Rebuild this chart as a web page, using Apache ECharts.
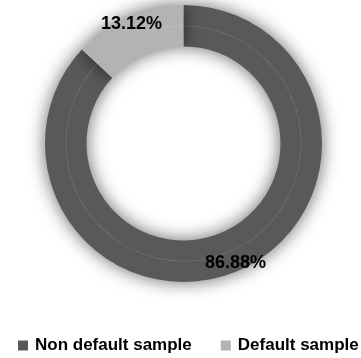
<!DOCTYPE html>
<html><head><meta charset="utf-8">
<script src="https://cdn.jsdelivr.net/npm/echarts@6/dist/echarts.min.js"></script>
<style>html,body{margin:0;padding:0;background:#fff}#c{width:361px;height:358px}</style>
</head><body><div id="c"></div>
<script>
const categories = ['Non default sample', 'Default sample'];
const values = [86.88, 13.12];
const colors = ['#595959', '#b3b3b3'];

const data = categories.map((name, i) => ({ name, value: values[i], itemStyle: { color: colors[i] } }));
const chart = echarts.init(document.getElementById('c'), null, { renderer: 'canvas' });
chart.setOption({
  animation: false,
  legend: {
    data: categories,
    left: 13, top: 332, width: 600,
    icon: 'rect', itemWidth: 10, itemHeight: 10, itemGap: 29,
    textStyle: { fontFamily: 'Liberation Sans', fontWeight: 'bold', fontSize: 17, color: '#000', padding: [0, 0, 0, 2] }
  },
  series: [
    {
      type: 'pie', center: [183.5, 143.5], radius: [97, 138.5], startAngle: 90, clockwise: true,
      label: { show: false }, labelLine: { show: false }, silent: true,
      itemStyle: { shadowBlur: 18, shadowColor: 'rgba(0,0,0,0.6)' },
      emphasis: { disabled: true },
      data: data
    },
    {
      type: 'pie', center: [183.5, 143.5], radius: [117.3, 118], startAngle: 90, clockwise: true,
      label: { show: false }, labelLine: { show: false }, silent: true,
      legendHoverLink: false, emphasis: { disabled: true },
      itemStyle: { color: 'rgba(255,255,255,0.15)' },
      data: categories.map((name, i) => ({ name: name + ' ', value: values[i] }))
    },
    {
      type: 'pie', center: [183.5, 143.5], radius: [116, 138], startAngle: 90, clockwise: true,
      silent: true, emphasis: { disabled: true }, legendHoverLink: false,
      itemStyle: { color: 'rgba(0,0,0,0)' },
      label: { show: true, position: 'inside', formatter: p => p.value.toFixed(2) + '%',
        fontFamily: 'Liberation Sans', fontWeight: 'bold', fontSize: 18, color: '#000' },
      labelLine: { show: false },
      data: categories.map((name, i) => ({ name: name + '  ', value: values[i] }))
    }
  ]
});
</script></body></html>
